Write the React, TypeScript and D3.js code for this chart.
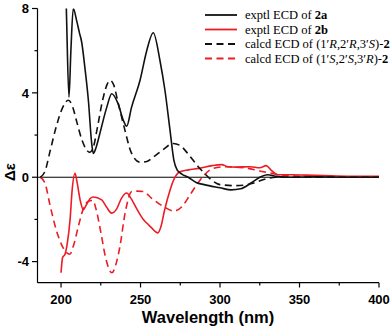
import React from 'react'
import * as d3 from 'd3'

// exptl ECD of 2a (black solid)
const expAnm = [201, 202.5, 203.5, 205, 206.2, 207.7, 209.9, 211.5, 213, 215, 217.2, 219.3, 220.3, 222, 224.5, 228.7, 231.9, 235.8, 239.2, 241.3, 244.3, 249.7, 253.9, 258, 262.3, 265.4, 268.6, 271, 273, 276, 280, 285, 290, 300, 307, 313, 320, 325, 330, 335, 345, 360, 380, 400]
const expAval = [13, 10.5, 7.5, 3.8, 6, 8.0, 7.4, 6.87, 6.4, 5.2, 3.65, 1.6, 1.13, 1.4, 2.1, 3.3, 3.96, 3.5, 2.7, 2.42, 3.3, 4.6, 6.0, 6.85, 5.5, 4.1, 2.2, 0.8, 0.35, 0.15, 0.0, -0.25, -0.35, -0.5, -0.6, -0.55, -0.25, 0.0, 0.12, 0.05, 0.0, 0.02, 0.0, 0.0]

// exptl ECD of 2b (red solid)
const expBnm = [200, 201, 202.5, 204, 205.7, 207, 208.8, 210, 212, 214, 216, 218.2, 220.3, 225.6, 228.5, 231.9, 235, 238, 241.3, 244, 248, 251.8, 255, 257, 260.8, 263, 265, 268.6, 271, 274.8, 280, 287, 295, 301, 305, 310, 319, 325, 329, 332, 336, 345, 354, 365, 380, 400]
const expBval = [-4.53, -3.8, -3.65, -3.1, -2.0, -0.6, 0.19, -0.2, -1.07, -1.54, -1.3, -1.02, -0.94, -1.07, -1.4, -1.7, -1.5, -1.0, -0.75, -1.0, -1.55, -2.0, -2.25, -2.4, -2.64, -2.3, -1.6, -0.6, -0.1, 0.26, 0.35, 0.42, 0.55, 0.6, 0.5, 0.48, 0.5, 0.45, 0.55, 0.35, 0.12, 0.12, 0.1, 0.08, 0.05, 0.05]

// calcd ECD of (1'R,2'R,3'S)-2 (black dashed)
const calcRnm = [187, 190, 193, 197, 201, 204.6, 207, 210, 213, 216, 218, 220, 223, 226, 229, 231, 233, 236, 240.3, 244, 249.7, 254, 258, 264, 270.6, 275, 280, 286.3, 290, 295, 300, 310, 320, 328, 335, 345, 400]
const calcRval = [0, 0.3, 1.2, 2.4, 3.3, 3.65, 3.4, 2.6, 1.8, 1.3, 1.18, 1.35, 2.4, 3.6, 4.4, 4.59, 4.4, 3.5, 2.2, 1.2, 0.71, 0.75, 0.95, 1.3, 1.6, 1.5, 1.1, 0.5, 0.2, -0.15, -0.35, -0.4, -0.3, -0.1, 0, 0, 0]

// calcd ECD of (1'S,2'S,3'R)-2 (red dashed)
const calcSnm = [187, 190, 193, 197, 201, 205.5, 208, 211, 214, 217, 220, 222, 225, 228, 232, 235, 237, 240.3, 244.5, 248, 251.8, 257, 264.4, 271, 276, 281, 285.3, 290, 295, 303, 315, 325, 335, 350, 400]
const calcSval = [0, -0.3, -1.3, -2.5, -3.3, -3.65, -3.2, -2.3, -1.5, -1.15, -1.1, -1.5, -2.6, -3.8, -4.53, -4.0, -3.3, -1.7, -0.68, -0.66, -0.68, -1.0, -1.39, -1.6, -1.4, -0.85, -0.36, 0.1, 0.4, 0.5, 0.45, 0.3, 0.15, 0.05, 0]

const xMajor = [200, 250, 300, 350, 400]
const xMinor = [225, 275, 325, 375]
const yMajor = [8, 4, 0, -4]
const yMinor = [6, 2, -2]

const RED = '#ec1c24'

export default function App() {
  const W = 392
  const H = 328
  const x = d3.scaleLinear().domain([185.2, 400]).range([37.5, 379])
  const y = d3.scaleLinear().domain([-5, 8]).range([282.7, 8.5])

  const line = d3
    .line<[number, number]>()
    .x((d) => x(d[0]))
    .y((d) => y(d[1]))
    .curve(d3.curveMonotoneX)

  const zip = (a: number[], b: number[]) => a.map((v, i) => [v, b[i]] as [number, number])

  const series = [
    { name: 'expB', pts: zip(expBnm, expBval), color: RED, dash: null },
    { name: 'calcS', pts: zip(calcSnm, calcSval), color: RED, dash: '7 4.5' },
    { name: 'calcR', pts: zip(calcRnm, calcRval), color: '#111', dash: '7 4.5' },
    { name: 'expA', pts: zip(expAnm, expAval), color: '#111', dash: null },
  ]

  const sans = 'Liberation Sans, Arial, sans-serif'
  const serif = 'Liberation Serif, Times New Roman, serif'
  const legendRows = [
    { color: '#111', dash: null, label: [['exptl ECD of ', 'n'], ['2a', 'b']] },
    { color: RED, dash: null, label: [['exptl ECD of ', 'n'], ['2b', 'b']] },
    {
      color: '#111',
      dash: '7 4.5',
      label: [['calcd ECD of (1′', 'n'], ['R', 'i'], [',2′', 'n'], ['R', 'i'], [',3′', 'n'], ['S', 'i'], [')-', 'n'], ['2', 'b']],
    },
    {
      color: RED,
      dash: '7 4.5',
      label: [['calcd ECD of (1′', 'n'], ['S', 'i'], [',2′', 'n'], ['S', 'i'], [',3′', 'n'], ['R', 'i'], [')-', 'n'], ['2', 'b']],
    },
  ]
  const legendY = [15, 29.5, 44, 58.5]

  return (
    <svg width={W} height={H} style={{ position: 'absolute', left: 0, top: 0, background: '#fff' }}>
      <defs>
        <clipPath id="plot">
          <rect x={37.5} y={8.5} width={379 - 37.5 + 4} height={282.7 - 8.5} />
        </clipPath>
      </defs>

      {/* zero line */}
      <line x1={37.5} x2={379} y1={y(0)} y2={y(0)} stroke="#000" strokeWidth={1} />

      <g clipPath="url(#plot)">
        {series.map((s) => (
          <path
            key={s.name}
            d={line(s.pts) || ''}
            fill="none"
            stroke={s.color}
            strokeWidth={1.6}
            strokeDasharray={s.dash || undefined}
          />
        ))}
      </g>

      {/* axes */}
      <line x1={37.5} x2={37.5} y1={8.5} y2={282.7} stroke="#000" strokeWidth={1.2} />
      <line x1={37.5} x2={379} y1={282.7} y2={282.7} stroke="#000" strokeWidth={1.2} />
      {yMajor.map((v) => (
        <g key={'ym' + v}>
          <line x1={32} x2={37.5} y1={y(v)} y2={y(v)} stroke="#000" strokeWidth={1.2} />
          <text x={29} y={y(v)} dy="0.36em" textAnchor="end" fontFamily={sans} fontWeight="bold" fontSize={13}>
            {v < 0 ? '-' + Math.abs(v) : v}
          </text>
        </g>
      ))}
      {yMinor.map((v) => (
        <line key={'yn' + v} x1={34.5} x2={37.5} y1={y(v)} y2={y(v)} stroke="#000" strokeWidth={1.2} />
      ))}
      {xMajor.map((v) => (
        <g key={'xm' + v}>
          <line x1={x(v)} x2={x(v)} y1={282.7} y2={287.5} stroke="#000" strokeWidth={1.2} />
          <text x={x(v)} y={303.5} textAnchor="middle" fontFamily={sans} fontWeight="bold" fontSize={13}>
            {v}
          </text>
        </g>
      ))}
      {xMinor.map((v) => (
        <line key={'xn' + v} x1={x(v)} x2={x(v)} y1={282.7} y2={285.5} stroke="#000" strokeWidth={1.2} />
      ))}

      <text x={208} y={323} textAnchor="middle" fontFamily={sans} fontWeight="bold" fontSize={16.5}>
        Wavelength (nm)
      </text>
      <text
        transform={`translate(15, ${172}) rotate(-90)`}
        textAnchor="middle"
        fontFamily={sans}
        fontWeight="bold"
        fontSize={15}
      >
        Δε
      </text>

      {/* legend */}
      {legendRows.map((r, i) => (
        <g key={'lg' + i}>
          <line
            x1={205}
            x2={237}
            y1={legendY[i]}
            y2={legendY[i]}
            stroke={r.color}
            strokeWidth={1.8}
            strokeDasharray={r.dash || undefined}
          />
          <text x={245} y={legendY[i]} dy="0.33em" fontFamily={serif} fontSize={12.5}>
            {r.label.map(([t, s], j) => (
              <tspan key={j} fontWeight={s === 'b' ? 'bold' : 'normal'} fontStyle={s === 'i' ? 'italic' : 'normal'}>
                {t}
              </tspan>
            ))}
          </text>
        </g>
      ))}
    </svg>
  )
}
